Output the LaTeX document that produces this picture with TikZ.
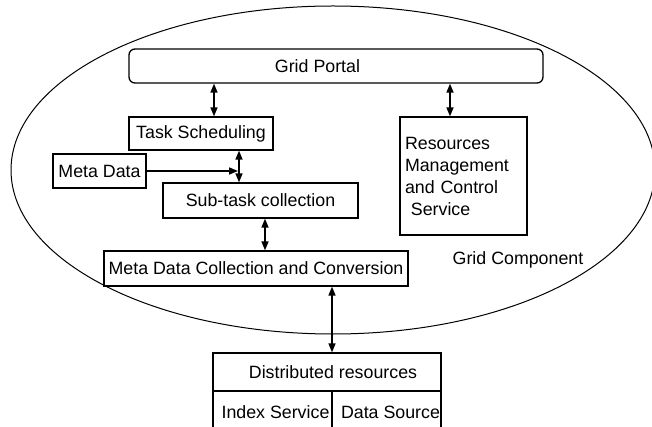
\documentclass[tikz,border=0pt]{standalone}
\usepackage{fontspec}
\setmainfont{Liberation Sans}
\usetikzlibrary{arrows.meta}
\begin{document}
\begin{tikzpicture}[x=1pt,y=-1pt,
    box/.style={draw,fill=white,line width=1.3pt,inner sep=0pt,
      font=\fontsize{17.8}{21}\selectfont},
    both/.style={{Triangle[length=9pt,width=7pt]}-{Triangle[length=9pt,width=7pt]},line width=1.6pt},
    one/.style={-{Triangle[length=9pt,width=7pt]},line width=1.6pt}]
                \useasboundingbox (0,0) rectangle (652,427);
                \clip (0,0) rectangle (652,427);
                \draw [line width=1pt] (333,170) ellipse [x radius=322, y radius=164];
                \node [box,rounded corners=6pt,minimum width=414,minimum height=34] (portal) at (336,66) {\hspace*{-37pt}Grid Portal};
                \node [box,minimum width=144,minimum height=33] (task) at (201,133.5) {Task Scheduling};
                \node [box,minimum width=93,minimum height=34] (meta) at (99.5,171) {Meta Data};
                \node [box,minimum width=195,minimum height=35] (subtask) at (260.5,200.5) {Sub-task collection};
                \node [box,minimum width=304,minimum height=35] (mdcc) at (256,268.5) {Meta Data Collection and Conversion};
                \node [box,minimum width=127,minimum height=118,text width=117,inner xsep=5pt,align=left,
                    font=\fontsize{17.8}{22}\selectfont] (rmcs) at (463.5,176)
                    {Resources\\Management\\and Control\\\ Service};
                \node [font=\fontsize{17.8}{21}\selectfont] (gcomp) at (518,260) {Grid Component};
                \node [box,minimum width=228,minimum height=38] (dres) at (327,372) {\hspace*{12pt}Distributed resources};
                \node [box,minimum width=119,minimum height=42] (idx) at (272.5,412) {\hspace*{6pt}Index Service};
                \node [box,minimum width=109,minimum height=42] (dsrc) at (386.5,412) {\hspace*{8pt}Data Source};
                \coordinate (jn) at ([xshift=-21.5]subtask.north);
                \draw [both] ([xshift=13]task.north) -- ([xshift=13]task.north |- portal.south);
                \draw [both] ([xshift=-13.5]rmcs.north) -- ([xshift=-13.5]rmcs.north |- portal.south);
                \draw [both] (jn) -- (jn |- task.south);
                \draw [one,shorten >=1pt] (meta.east) -- (meta.east -| jn);
                \draw [both] ([xshift=4.5]subtask.south) -- ([xshift=4.5]subtask.south |- mdcc.north);
                \draw [both] ([xshift=76]mdcc.south) -- ([xshift=76]mdcc.south |- dres.north);
            \end{tikzpicture}
\end{document}
